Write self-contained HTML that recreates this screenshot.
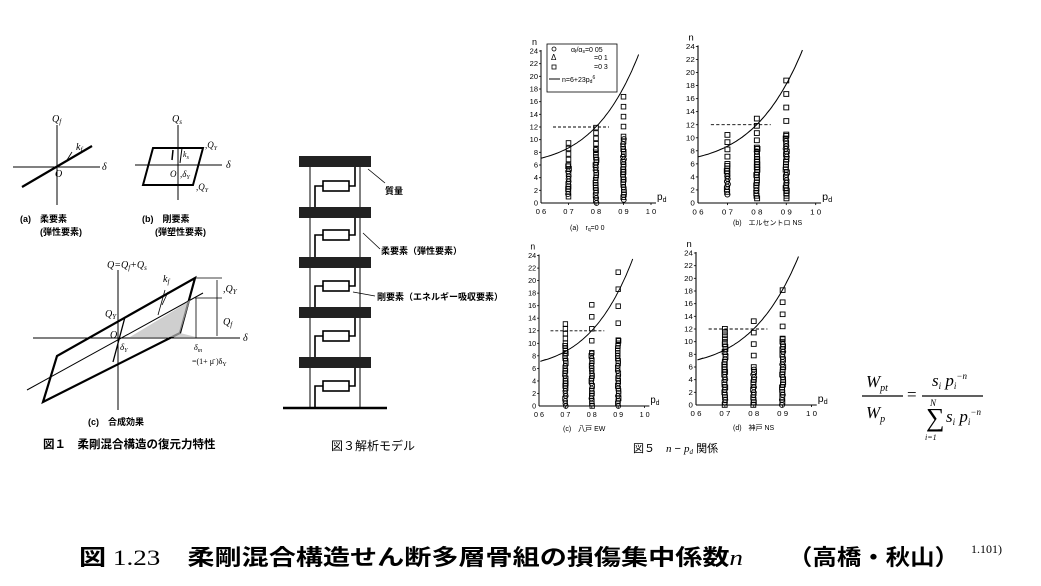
<!DOCTYPE html>
<html><head><meta charset="utf-8"><style>
html,body{margin:0;padding:0;background:#fff;}
svg{display:block;font-family:"Liberation Sans","Noto Sans CJK JP",sans-serif;}
</style></head><body>
<svg id="s" width="1041" height="586" viewBox="0 0 1041 586" xmlns="http://www.w3.org/2000/svg">
<defs>
<g id="ax" font-size="7.5" fill="#000">
 <line x1="0" y1="0" x2="115" y2="0" stroke="#000" stroke-width="1"/>
 <line x1="0" y1="0" x2="0" y2="-153" stroke="#000" stroke-width="1"/>
 <g stroke="#000" stroke-width="0.8">
  <line x1="-2" y1="-12.7" x2="0" y2="-12.7"/><line x1="-2" y1="-25.3" x2="0" y2="-25.3"/><line x1="-2" y1="-38" x2="0" y2="-38"/><line x1="-2" y1="-50.7" x2="0" y2="-50.7"/><line x1="-2" y1="-63.3" x2="0" y2="-63.3"/><line x1="-2" y1="-76" x2="0" y2="-76"/><line x1="-2" y1="-88.7" x2="0" y2="-88.7"/><line x1="-2" y1="-101.3" x2="0" y2="-101.3"/><line x1="-2" y1="-114" x2="0" y2="-114"/><line x1="-2" y1="-126.7" x2="0" y2="-126.7"/><line x1="-2" y1="-139.3" x2="0" y2="-139.3"/><line x1="-2" y1="-152" x2="0" y2="-152"/>
  <line x1="27.5" y1="0" x2="27.5" y2="2"/><line x1="55" y1="0" x2="55" y2="2"/><line x1="82.5" y1="0" x2="82.5" y2="2"/><line x1="110" y1="0" x2="110" y2="2"/>
 </g>
 <g text-anchor="end">
  <text x="-3" y="2.5">0</text><text x="-3" y="-10.2">2</text><text x="-3" y="-22.8">4</text><text x="-3" y="-35.5">6</text><text x="-3" y="-48.2">8</text><text x="-3" y="-60.8">10</text><text x="-3" y="-73.5">12</text><text x="-3" y="-86.2">14</text><text x="-3" y="-98.8">16</text><text x="-3" y="-111.5">18</text><text x="-3" y="-124.2">20</text><text x="-3" y="-136.8">22</text><text x="-3" y="-149.5">24</text>
 </g>
 <g text-anchor="middle">
  <text x="0" y="11">0 6</text><text x="27.5" y="11">0 7</text><text x="55" y="11">0 8</text><text x="82.5" y="11">0 9</text><text x="110" y="11">1 0</text>
 </g>
 <text x="-9" y="-158" font-size="9">n</text>
 <text x="116" y="-3" font-size="10">p<tspan font-size="7" dy="2">d</tspan></text>
</g>
</defs>

<!-- Fig 1 (a) -->
<g stroke="#000" fill="none">
 <line x1="57" y1="125" x2="57" y2="205" stroke-width="1"/>
 <line x1="13" y1="167" x2="100" y2="167" stroke-width="1"/>
 <line x1="22" y1="187" x2="92" y2="146" stroke-width="2.2"/>
 <line x1="72" y1="152" x2="67" y2="160" stroke-width="0.8"/>
 <line x1="178" y1="125" x2="178" y2="200" stroke-width="1"/>
 <line x1="135" y1="165" x2="222" y2="165" stroke-width="1"/>
 <polygon points="143,185 153,148 203,148 193,185" stroke-width="2"/>
 <line x1="182" y1="148" x2="180" y2="163" stroke-width="1"/>
 <line x1="173" y1="150" x2="172" y2="160" stroke-width="1.5"/>
 <line x1="118" y1="270" x2="118" y2="410" stroke-width="1"/>
 <line x1="33" y1="338" x2="240" y2="338" stroke-width="1"/>
 <polygon points="43,402 57,356 195,278 180,333" stroke-width="2.2"/>
 <line x1="27" y1="390" x2="203" y2="293" stroke-width="1"/>
 <line x1="125" y1="317" x2="113" y2="362" stroke-width="1.3"/>
 <line x1="195" y1="278" x2="222" y2="278" stroke-width="0.8"/>
 <line x1="195" y1="298" x2="222" y2="298" stroke-width="0.8"/>
 <line x1="196" y1="298" x2="196" y2="338" stroke-width="0.8"/>
 <line x1="217" y1="280" x2="217" y2="336" stroke-width="0.8"/>
 <line x1="165" y1="290" x2="158" y2="315" stroke-width="0.8"/>
 <line x1="168" y1="292" x2="162" y2="305" stroke-width="0.8"/>
</g>
<polygon points="130,337 183,305 190,300 180,333 196,337" fill="#bbb" opacity="0.7"/>
<g font-family="Liberation Serif,serif" font-style="italic" font-size="10" fill="#000">
 <text x="52" y="122">Q<tspan font-size="7" dy="2">f</tspan></text>
 <text x="76" y="150">k<tspan font-size="7" dy="2">f</tspan></text>
 <text x="55" y="177">O</text>
 <text x="102" y="170">δ</text>
 <text x="172" y="122">Q<tspan font-size="7" dy="2">s</tspan></text>
 <text x="183" y="157" font-size="8">k<tspan font-size="6" dy="2">s</tspan></text>
 <text x="205" y="148" font-size="9">,Q<tspan font-size="6" dy="2">Y</tspan></text>
 <text x="226" y="168">δ</text>
 <text x="170" y="177" font-size="9">O</text>
 <text x="180" y="177" font-size="9">,δ<tspan font-size="6" dy="2">Y</tspan></text>
 <text x="196" y="190" font-size="9">,Q<tspan font-size="6" dy="2">Y</tspan></text>
 <text x="107" y="268">Q=Q<tspan font-size="7" dy="2">f</tspan><tspan dy="-2">+Q</tspan><tspan font-size="7" dy="2">s</tspan></text>
 <text x="163" y="282">k<tspan font-size="7" dy="2">f</tspan></text>
 <text x="223" y="292">,Q<tspan font-size="7" dy="2">Y</tspan></text>
 <text x="223" y="325">Q<tspan font-size="7" dy="2">f</tspan></text>
 <text x="105" y="317">Q<tspan font-size="7" dy="2">Y</tspan></text>
 <text x="110" y="338">O</text>
 <text x="120" y="350" font-size="9">δ<tspan font-size="6" dy="2">Y</tspan></text>
 <text x="243" y="341">δ</text>
 <text x="194" y="350" font-size="8">δ<tspan font-size="6" dy="2">m</tspan></text>
 <text x="192" y="364" font-size="8" font-style="normal">=(1+ μ̄ )δ<tspan font-size="6" dy="2">Y</tspan></text>
</g>
<g font-size="9" fill="#000" font-weight="bold">
 <text x="20" y="222">(a)　柔要素</text>
 <text x="40" y="235">(弾性要素)</text>
 <text x="142" y="222">(b)　剛要素</text>
 <text x="155" y="235">(弾塑性要素)</text>
 <text x="88" y="425">(c)　合成効果</text>
 <text x="43" y="448" font-size="11.5">図１　柔剛混合構造の復元力特性</text>
</g>

<!-- Fig 3 -->
<g stroke="#000" fill="none" stroke-width="1">
 <line x1="310" y1="160" x2="310" y2="408"/>
 <line x1="360" y1="160" x2="360" y2="408"/>
 <line x1="283" y1="408" x2="387" y2="408" stroke-width="2.5"/>
 <g stroke-width="1.6">
  <path d="M355,167 V186 H349 M323,186 H315 V207"/><rect x="323" y="181" width="26" height="10"/>
  <path d="M355,218 V235 H349 M323,235 H315 V257"/><rect x="323" y="230" width="26" height="10"/>
  <path d="M355,268 V286 H349 M323,286 H315 V307"/><rect x="323" y="281" width="26" height="10"/>
  <path d="M355,318 V336 H349 M323,336 H315 V357"/><rect x="323" y="331" width="26" height="10"/>
  <path d="M355,368 V386 H349 M323,386 H315 V408"/><rect x="323" y="381" width="26" height="10"/>
 </g>
 <line x1="385" y1="183" x2="368" y2="169" stroke-width="0.8"/>
 <line x1="380" y1="249" x2="363" y2="233" stroke-width="0.8"/>
 <line x1="375" y1="296" x2="353" y2="292" stroke-width="0.8"/>
</g>
<g fill="#222">
 <rect x="299" y="156" width="72" height="11"/>
 <rect x="299" y="207" width="72" height="11"/>
 <rect x="299" y="257" width="72" height="11"/>
 <rect x="299" y="307" width="72" height="11"/>
 <rect x="299" y="357" width="72" height="11"/>
</g>
<g font-size="9" fill="#000" font-weight="bold">
 <text x="385" y="194">質量</text>
 <text x="381" y="254">柔要素（弾性要素）</text>
 <text x="377" y="300">剛要素（エネルギー吸収要素）</text>
 <text x="331" y="450" font-size="12" font-weight="normal">図３解析モデル</text>
</g>

<g id="ca" transform="translate(541,203)"><use href="#ax"/></g>
<g id="cb" transform="translate(698,203) scale(1.07,1.03)"><use href="#ax"/></g>
<g id="cc" transform="translate(539,406) scale(0.96,0.99)"><use href="#ax"/></g>
<g id="cd" transform="translate(696,405) scale(1.05,1)"><use href="#ax"/></g>

<g font-size="7" fill="#000">
 <rect x="547" y="44" width="70" height="48" fill="none" stroke="#000" stroke-width="0.8"/>
 <circle cx="554" cy="49" r="2" fill="none" stroke="#000" stroke-width="0.8"/>
 <text x="551" y="60" font-size="8">Δ</text>
 <rect x="552" y="65" width="4" height="4" fill="none" stroke="#000" stroke-width="0.8"/>
 <line x1="549" y1="79" x2="560" y2="79" stroke="#000"/>
 <text x="571" y="52">α<tspan font-size="5" dy="1">f</tspan><tspan dy="-1">/α</tspan><tspan font-size="5" dy="1">s</tspan><tspan dy="-1">=0 05</tspan></text>
 <text x="594" y="60">=0 1</text>
 <text x="594" y="69">=0 3</text>
 <text x="562" y="82">n=6+23p<tspan font-size="5" dy="1">d</tspan><tspan font-size="5" dy="-4">6</tspan></text>
 <text x="570" y="230">(a)　r<tspan font-size="5" dy="1">q</tspan><tspan dy="-1">=0 0</tspan></text>
 <text x="733" y="225">(b)　エルセントロ NS</text>
 <text x="563" y="431">(c)　八戸 EW</text>
 <text x="733" y="430">(d)　神戸 NS</text>
 <text x="633" y="452" font-size="11">図５　<tspan font-family="Liberation Serif,serif" font-style="italic">n</tspan> − <tspan font-family="Liberation Serif,serif" font-style="italic">p<tspan font-size="7" dy="2">d</tspan></tspan><tspan dy="-2"> 関係</tspan></text>
</g>

<g font-family="Liberation Serif,serif" font-style="italic" fill="#000" font-size="17">
 <text x="866" y="387">W<tspan font-size="10" dy="4">pt</tspan></text>
 <line x1="862" y1="396" x2="903" y2="396" stroke="#000" stroke-width="1.2"/>
 <text x="866" y="418">W<tspan font-size="10" dy="4">p</tspan></text>
 <text x="907" y="400" font-style="normal">=</text>
 <text x="932" y="386">s<tspan font-size="9" dy="3">i</tspan><tspan dy="-3"> p</tspan><tspan font-size="9" dy="3">i</tspan><tspan font-size="9" dy="-10">−n</tspan></text>
 <line x1="922" y1="396" x2="983" y2="396" stroke="#000" stroke-width="1.2"/>
 <text x="926" y="426" font-size="26" font-style="normal">∑</text>
 <text x="930" y="406" font-size="9">N</text>
 <text x="925" y="440" font-size="8">i=1</text>
 <text x="946" y="422">s<tspan font-size="9" dy="3">i</tspan><tspan dy="-3"> p</tspan><tspan font-size="9" dy="3">i</tspan><tspan font-size="9" dy="-10">−n</tspan></text>
</g>

<text x="79" y="565" font-size="22" fill="#000" font-weight="bold" textLength="664" lengthAdjust="spacingAndGlyphs" font-family="Liberation Serif,'Noto Sans CJK JP',serif">図 <tspan font-weight="normal">1.23</tspan>　柔剛混合構造せん断多層骨組の損傷集中係数<tspan font-style="italic" font-weight="normal">n</tspan></text>
<text x="788" y="565" font-size="22" fill="#000" font-weight="bold" textLength="171" lengthAdjust="spacingAndGlyphs" font-family="'Noto Sans CJK JP',sans-serif">（高橋・秋山）</text>
<text x="971" y="553" font-size="12" fill="#000" font-family="Liberation Serif,serif">1.101)</text>

<script>
var NS="http://www.w3.org/2000/svg";
function el(p,t,a){var e=document.createElementNS(NS,t);for(var k in a)e.setAttribute(k,a[k]);p.appendChild(e);return e;}
var seed=7;function rnd(){seed=(seed*9301+49297)%233280;return seed/233280;}
var data={
 ca:[[0.7,1,10.3],[0.8,0,12.7],[0.9,0.5,18.3]],
 cb:[[0.7,1.3,11.5],[0.8,0.7,14],[0.9,0.7,20.8]],
 cc:[[0.7,0,13.8],[0.8,0,18],[0.9,0,24]],
 cd:[[0.7,0,12.5],[0.8,0,15],[0.9,0,20]]};
for(var id in data){
 var g=document.getElementById(id);
 var d="";for(var p=0.6;p<=0.962;p+=0.005){var n=6+23*Math.pow(p,6);if(n>24)break;d+=(d?"L":"M")+((p-0.6)*275).toFixed(1)+","+(-n*6.333).toFixed(1);}
 if(id=="cc"||id=="cd")d=d.replace(/^M[^L]*L/,"M7,-47L");
 el(g,"path",{d:d,fill:"none",stroke:"#000","stroke-width":1});
 el(g,"line",{x1:12,y1:-76,x2:68,y2:-76,stroke:"#000","stroke-width":0.9,"stroke-dasharray":"3,2"});
 data[id].forEach(function(c){
  var x=(c[0]-0.6)*275;
  var dense=c[0]==0.9?10.5:(c[0]==0.8?(id=="cd"?6:8.5):(id=="cc"||id=="cd"?10:6));
  for(var n=c[1];n<=dense;n+=0.4){var yy=-n*6.333;var dx=(rnd()-0.5)*1.2;
   if(rnd()<0.3)el(g,"circle",{cx:x+dx,cy:yy,r:2.4,fill:"none",stroke:"#000","stroke-width":0.9});
   else el(g,"rect",{x:x-2.3+dx,y:yy-2.3,width:4.6,height:4.6,fill:"none",stroke:"#000","stroke-width":0.9});}
  for(var n=dense;n<=c[2];n+=(c[2]-dense)/5+0.01){var yy=-n*6.333;
   el(g,"rect",{x:x-2.3,y:yy-2.3,width:4.6,height:4.6,fill:"none",stroke:"#000","stroke-width":0.9});}
 });
}
</script>
</svg>
</body></html>
